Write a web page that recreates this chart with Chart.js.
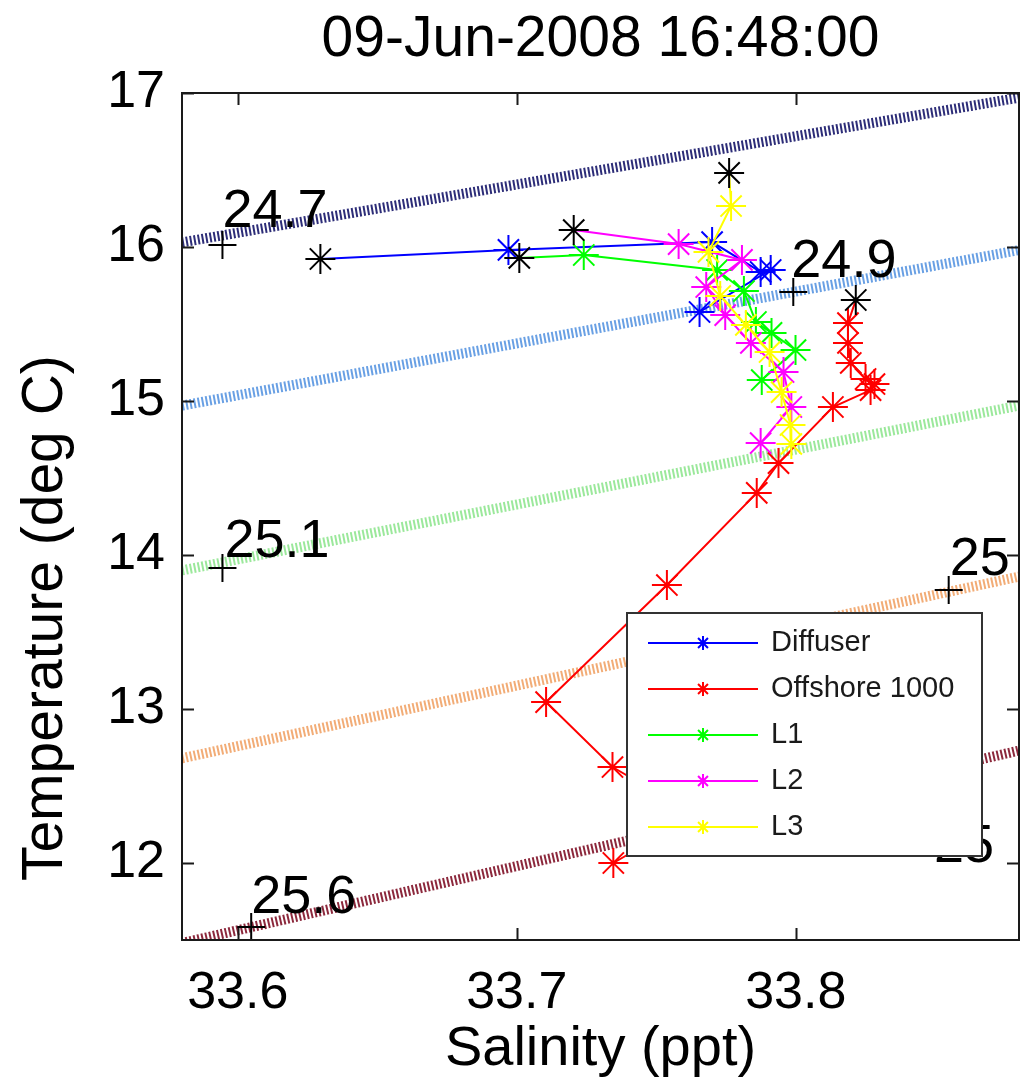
<!DOCTYPE html>
<html>
<head>
<meta charset="utf-8">
<script src="https://cdn.jsdelivr.net/npm/chart.js@4.4.1/dist/chart.umd.min.js"></script>
<style>
html,body{margin:0;padding:0;background:#fff;}
canvas{display:block;}
</style>
</head>
<body>
<canvas id="c" width="1036" height="1092" style="width:1036px;height:1092px"></canvas>
<script>
// ---------------- DATA ----------------
const titleText = '09-Jun-2008 16:48:00';
const xAxisTitle = 'Salinity (ppt)';
const yAxisTitle = 'Temperature (deg C)';
const salLimits = [33.58, 33.88];
const tempLimits = [11.5, 17];
const xTickValues = [33.6, 33.7, 33.8];
const yTickValues = [12, 13, 14, 15, 16, 17];

const seriesNames = ['Diffuser', 'Offshore 1000', 'L1', 'L2', 'L3'];
const seriesColors = ['#0000ff', '#ff0000', '#00ff00', '#ff00ff', '#ffff00'];

const diffuserSal  = [33.6296, 33.6970, 33.7700, 33.7874, 33.7910, 33.7655];
const diffuserTemp = [15.922, 15.981, 16.032, 15.838, 15.851, 15.578];

const offshoreSal  = [33.8215, 33.8187, 33.8187, 33.8197, 33.8250, 33.8282, 33.8268, 33.8133, 33.7938, 33.7860, 33.7538, 33.7105, 33.7343, 33.7640, 33.7346];
const offshoreTemp = [15.656, 15.506, 15.377, 15.247, 15.143, 15.110, 15.071, 14.961, 14.597, 14.403, 13.805, 13.045, 12.623, 12.310, 12.000];

const l1Sal  = [33.7009, 33.7240, 33.7718, 33.7814, 33.7857, 33.7913, 33.7999, 33.7878];
const l1Temp = [15.929, 15.948, 15.851, 15.714, 15.513, 15.442, 15.331, 15.136];

const l2Sal  = [33.7204, 33.7580, 33.7807, 33.7679, 33.7747, 33.7839, 33.7956, 33.7984, 33.7874];
const l2Temp = [16.110, 16.019, 15.916, 15.740, 15.558, 15.377, 15.188, 14.961, 14.727];

const l3Sal  = [33.7761, 33.7768, 33.7687, 33.7729, 33.7821, 33.7906, 33.7949, 33.7981, 33.7984];
const l3Temp = [16.481, 16.266, 15.968, 15.682, 15.494, 15.318, 15.058, 14.844, 14.721];

// isopycnal (sigma-t) contour lines: temperature at the left and right salinity limits
const isoLevels    = ['24.7', '24.9', '25.1', '25.4', '25.6'];
const isoLeftTemp  = [16.03, 14.97, 13.90, 12.68, 11.48];
const isoRightTemp = [16.97, 15.98, 14.97, 13.86, 12.73];
const isoColors    = ['rgb(45,45,120)', 'rgb(105,160,228)', 'rgb(155,232,155)', 'rgb(242,172,118)', 'rgb(140,40,60)'];

// contour label "+" markers
const plusSal  = [33.5945, 33.7991, 33.5945, 33.8548, 33.6048];
const plusTemp = [16.013, 15.708, 13.916, 13.773, 11.584];

// contour label texts (left / baseline anchor)
const labelTexts = ['24.7', '24.9', '25.1', '25', '25', '25.6'];
const labelSal   = [33.5945, 33.7984, 33.5952, 33.8552, 33.8495, 33.6048];
const labelTemp  = [16.130, 15.805, 13.987, 13.870, 12.006, 11.675];

// ---------------- CHART ----------------
const FONT = '"Liberation Sans", Arial, Helvetica, sans-serif';
Chart.defaults.font.family = FONT;
Chart.defaults.color = '#000';

const AREA = {left: 182, right: 1028, top: 93, bottom: 940};

const pts = (s, t) => s.map((v, i) => ({x: v, y: t[i]}));

const seriesSal = [diffuserSal, offshoreSal, l1Sal, l2Sal, l3Sal];
const seriesTemp = [diffuserTemp, offshoreTemp, l1Temp, l2Temp, l3Temp];

const datasets = [];
isoLevels.forEach((lv, i) => {
  datasets.push({
    label: 'iso ' + lv,
    data: pts(salLimits, [isoLeftTemp[i], isoRightTemp[i]]),
    showLine: true,
    borderColor: isoColors[i],
    backgroundColor: isoColors[i],
    borderWidth: 10,
    borderDash: [2, 2],
    pointRadius: 0,
    order: 100,
    isLegend: false
  });
});
seriesNames.forEach((name, i) => {
  datasets.push({
    label: name,
    data: pts(seriesSal[i], seriesTemp[i]),
    showLine: true,
    borderColor: seriesColors[i],
    backgroundColor: seriesColors[i],
    pointBorderColor: seriesColors[i],
    borderWidth: 2,
    pointStyle: 'star',
    pointRadius: ctx => ctx.dataIndex === 0 ? 0 : 15,
    pointBorderWidth: 2,
    order: 50 - i * 10,
    isLegend: true
  });
});
datasets.push({
  label: 'surface',
  data: pts(seriesSal.map(a => a[0]), seriesTemp.map(a => a[0])),
  showLine: false,
  borderColor: '#000',
  backgroundColor: '#000',
  pointBorderColor: '#000',
  pointStyle: 'star',
  pointRadius: 15,
  pointBorderWidth: 2,
  order: 3,
  isLegend: false
});
datasets.push({
  label: 'labels',
  data: pts(plusSal, plusTemp),
  showLine: false,
  borderColor: '#000',
  backgroundColor: '#000',
  pointBorderColor: '#000',
  pointStyle: 'cross',
  pointRadius: 14,
  pointBorderWidth: 2,
  order: 2,
  isLegend: false
});

const framePlugin = {
  id: 'frame',
  afterDatasetsDraw(chart) {
    const {ctx, chartArea: a, scales: {x, y}} = chart;
    ctx.save();
    ctx.fillStyle = '#000';
    ctx.font = '54px ' + FONT;
    ctx.textAlign = 'left';
    ctx.textBaseline = 'alphabetic';
    labelTexts.forEach((t, i) => {
      ctx.fillText(t, x.getPixelForValue(labelSal[i]), y.getPixelForValue(labelTemp[i]));
    });
    ctx.strokeStyle = '#1a1a1a';
    ctx.lineWidth = 2;
    ctx.strokeRect(a.left, a.top, a.right - a.left, a.bottom - a.top);
    const tl = 12;
    ctx.beginPath();
    xTickValues.forEach(v => {
      const px = Math.round(x.getPixelForValue(v)) + 0.5;
      ctx.moveTo(px, a.bottom); ctx.lineTo(px, a.bottom - tl);
      ctx.moveTo(px, a.top); ctx.lineTo(px, a.top + tl);
    });
    yTickValues.forEach(v => {
      const py = Math.round(y.getPixelForValue(v)) + 0.5;
      ctx.moveTo(a.left, py); ctx.lineTo(a.left + tl, py);
      ctx.moveTo(a.right, py); ctx.lineTo(a.right - tl, py);
    });
    ctx.stroke();
    ctx.restore();
  }
};

// y-axis label (sits lower than the axis centre in the reference)
const yLabelPlugin = {
  id: 'yLabel',
  afterDraw(chart) {
    const {ctx, chartArea: a} = chart;
    ctx.save();
    ctx.translate(46, a.top + 0.62 * (a.bottom - a.top));
    ctx.rotate(-Math.PI / 2);
    ctx.fillStyle = '#000';
    ctx.font = '57px ' + FONT;
    ctx.textAlign = 'center';
    ctx.textBaseline = 'middle';
    ctx.fillText(yAxisTitle, 0, 0);
    ctx.restore();
  }
};

const legendPlugin = {
  id: 'matlabLegend',
  afterDraw(chart) {
    const {ctx, chartArea: a} = chart;
    const bx = a.left + 445, by = a.top + 520, bw = 355, bh = 243;
    ctx.save();
    ctx.fillStyle = '#fff';
    ctx.fillRect(bx, by, bw, bh);
    ctx.strokeStyle = '#333';
    ctx.lineWidth = 2;
    ctx.strokeRect(bx, by, bw, bh);
    const items = chart.data.datasets.filter(d => d.isLegend);
    items.forEach((d, i) => {
      const cy = by + 30 + i * 46;
      ctx.strokeStyle = d.borderColor;
      ctx.lineWidth = 2;
      ctx.beginPath();
      ctx.moveTo(bx + 21, cy); ctx.lineTo(bx + 131, cy);
      ctx.stroke();
      Chart.helpers.drawPoint(ctx, {pointStyle: 'star', radius: 7, borderWidth: 2}, bx + 76, cy);
      ctx.fillStyle = '#1a1a1a';
      ctx.font = '29px ' + FONT;
      ctx.textAlign = 'left';
      ctx.textBaseline = 'middle';
      ctx.fillText(d.label, bx + 144, cy);
    });
    ctx.restore();
  }
};

const chart = new Chart(document.getElementById('c'), {
  type: 'scatter',
  data: {datasets},
  options: {
    responsive: false,
    animation: false,
    devicePixelRatio: 1,
    layout: {padding: {left: 0, right: 8, top: 0, bottom: 0}},
    elements: {line: {tension: 0}},
    plugins: {
      legend: {display: false},
      tooltip: {enabled: false},
      title: {
        display: true,
        text: titleText,
        fullSize: false,
        color: '#000',
        font: {size: 57, weight: 'normal'},
        padding: {top: 5, bottom: 19}
      }
    },
    scales: {
      x: {
        type: 'linear',
        position: 'bottom',
        min: salLimits[0],
        max: salLimits[1],
        afterBuildTicks: s => { s.ticks = xTickValues.map(v => ({value: v})); },
        afterFit: s => { s.height = 152; },
        grid: {display: false, drawTicks: false},
        border: {display: false},
        ticks: {font: {size: 52}, color: '#000', padding: 22, autoSkip: false, maxRotation: 0,
                callback: v => Number(v).toFixed(1)},
        title: {display: true, text: xAxisTitle, color: '#000', font: {size: 56}, padding: {top: 0, bottom: 9}}
      },
      y: {
        type: 'linear',
        position: 'left',
        min: tempLimits[0],
        max: tempLimits[1],
        afterBuildTicks: s => { s.ticks = yTickValues.map(v => ({value: v})); },
        afterFit: s => { s.width = 182; },
        grid: {display: false, drawTicks: false},
        border: {display: false},
        ticks: {font: {size: 52}, color: '#000', padding: 17, autoSkip: false,
                callback: v => String(v)},
        title: {display: false, text: yAxisTitle}
      }
    }
  },
  plugins: [framePlugin, yLabelPlugin, legendPlugin]
});

// make the plot box land exactly where the reference axes are
for (let k = 0; k < 3; k++) {
  const a = chart.chartArea, p = chart.options.layout.padding;
  const dr = a.right - AREA.right, db = a.bottom - AREA.bottom, dl = AREA.left - a.left, dt = AREA.top - a.top;
  if (Math.abs(dr) < 0.5 && Math.abs(db) < 0.5 && Math.abs(dl) < 0.5 && Math.abs(dt) < 0.5) break;
  p.right = Math.max(0, p.right + dr);
  p.bottom = Math.max(0, p.bottom + db);
  p.left = Math.max(0, p.left + dl);
  p.top = Math.max(0, p.top + dt);
  chart.update();
}
</script>
</body>
</html>
